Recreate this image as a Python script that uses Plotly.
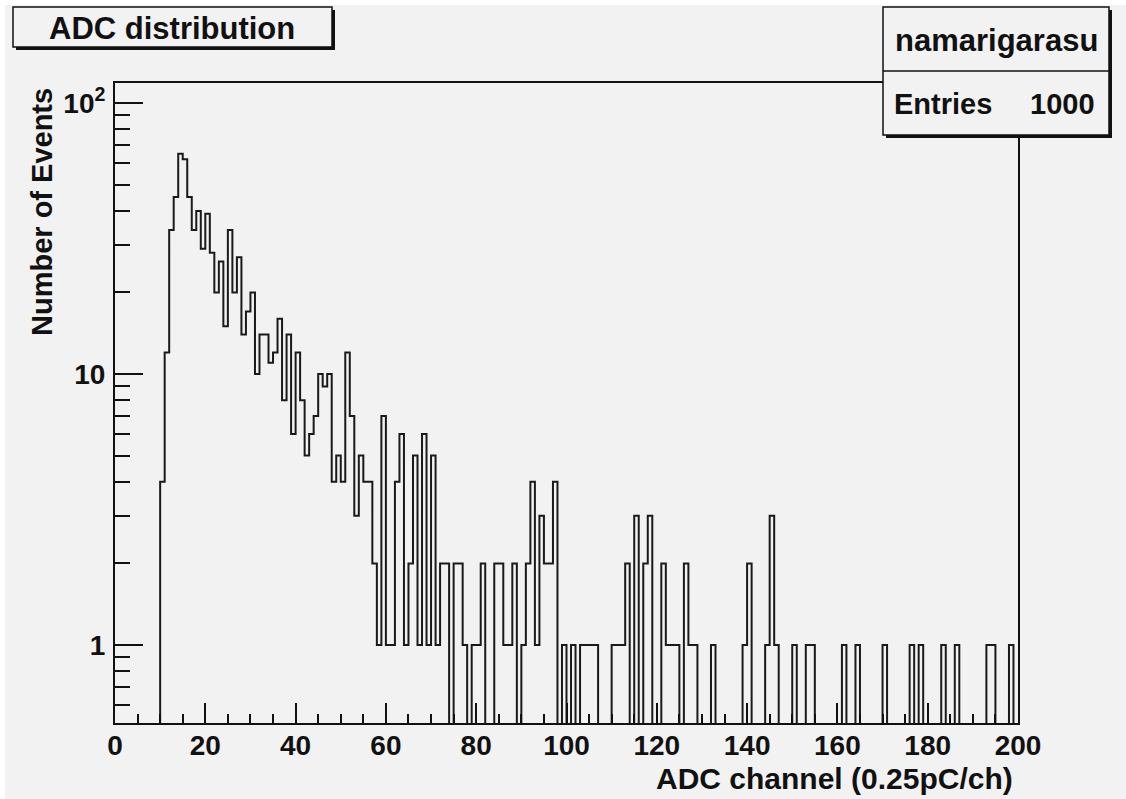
import plotly.graph_objects as go

# ---------------- data ----------------
bin_edges_lo = list(range(0, 200))          # 200 bins, width 1, from 0 to 200
counts = [
    0, 0, 0, 0, 0, 0, 0, 0, 0, 0,          # 0-9
    4, 12, 34, 45, 65, 62, 45, 34, 40, 29,  # 10-19
    39, 28, 20, 26, 15, 34, 20, 27, 14, 17, # 20-29
    20, 10, 14, 14, 11, 12, 16, 8, 14, 6,   # 30-39
    12, 8, 5, 6, 7, 10, 9, 10, 4, 5,        # 40-49
    4, 12, 7, 3, 5, 4, 4, 2, 1, 7,          # 50-59
    1, 1, 4, 6, 1, 2, 5, 1, 6, 1,           # 60-69
    5, 1, 2, 2, 0, 2, 2, 1, 0, 1,           # 70-79
    1, 2, 0, 0, 2, 2, 1, 1, 2, 0,           # 80-89
    1, 2, 4, 1, 3, 2, 2, 4, 0, 1,           # 90-99
    0, 1, 0, 1, 1, 1, 1, 0, 0, 0,           # 100-109
    1, 1, 1, 2, 0, 3, 0, 2, 3, 0,           # 110-119
    0, 2, 1, 1, 1, 0, 2, 1, 1, 0,           # 120-129
    0, 0, 1, 0, 0, 0, 0, 0, 0, 1,           # 130-139
    2, 0, 0, 0, 1, 3, 1, 0, 0, 0,           # 140-149
    1, 0, 0, 1, 1, 0, 0, 0, 0, 0,           # 150-159
    0, 1, 0, 0, 1, 0, 0, 0, 0, 0,           # 160-169
    1, 0, 0, 0, 0, 0, 1, 0, 1, 0,           # 170-179
    0, 0, 0, 1, 0, 0, 1, 0, 0, 0,           # 180-189
    0, 0, 0, 1, 1, 0, 0, 0, 1, 0,           # 190-199
]
x_tick_vals = [0, 20, 40, 60, 80, 100, 120, 140, 160, 180, 200]
y_tick_vals = [1, 10, 100]
y_tick_text = ["1", "10", "10<sup>2</sup>"]
y_minor_vals = [0.6, 0.7, 0.8, 0.9, 2, 3, 4, 5, 6, 7, 8, 9,
                20, 30, 40, 50, 60, 70, 80, 90]
title_text = "ADC distribution"
stats_name = "namarigarasu"
entries = 1000
x_title = "ADC channel (0.25pC/ch)"
y_title = "Number of Events"

# ---------------- layout constants ----------------
W, H = 1126, 799
ML, MR, MT, MB = 115, 108, 83, 76
PW, PH = W - ML - MR, H - MT - MB
BG = "#f2f2f2"
FONT = "Liberation Sans"
INK = "#111111"


def px(x):
    return (x - ML) / PW


def py(y):
    return (H - MB - y) / PH


# step outline: zero bins drop below the log axis and get clipped
FLOOR = 1e-3
step_x = bin_edges_lo + [200]
step_y = [c if c > 0 else FLOOR for c in counts]
step_y = step_y + [step_y[-1]]

fig = go.Figure()
fig.add_trace(go.Scatter(
    x=step_x, y=step_y, mode="lines", line_shape="hv",
    line=dict(color="#1a1a1a", width=2), hoverinfo="skip", showlegend=False,
))

fig.update_layout(
    width=W, height=H,
    margin=dict(l=ML, r=MR, t=MT, b=MB, pad=0),
    paper_bgcolor="white", plot_bgcolor=BG,
    font=dict(family=FONT, color=INK),
    showlegend=False,
)

fig.update_xaxes(
    range=[0, 200], showgrid=False, zeroline=False,
    showline=True, linecolor=INK, linewidth=2, mirror=True,
    ticks="inside", ticklen=20, tickwidth=1.5, tickcolor=INK,
    tickvals=x_tick_vals,
    tickfont=dict(family=FONT, size=28, color=INK, weight="bold"),
    ticklabelstandoff=-4,
    minor=dict(ticks="inside", ticklen=9, tickwidth=1.5, tickcolor=INK, dtick=5, showgrid=False),
)
fig.update_yaxes(
    type="log", range=[-0.288, 2.074], showgrid=False, zeroline=False,
    showline=True, linecolor=INK, linewidth=2, mirror=True,
    ticks="inside", ticklen=28, tickwidth=1.5, tickcolor=INK,
    tickvals=y_tick_vals, ticktext=y_tick_text,
    tickfont=dict(family=FONT, size=28, color=INK, weight="bold"),
    ticklabelstandoff=2,
    minor=dict(ticks="inside", ticklen=15, tickwidth=1.5, tickcolor=INK,
               tickvals=y_minor_vals, showgrid=False),
)

shapes = []
# canvas background (thin white rim at top/left)
shapes.append(dict(type="rect", xref="paper", yref="paper", layer="below",
                   x0=px(5), x1=px(W), y0=py(H), y1=py(5),
                   fillcolor=BG, line=dict(width=0)))
# title box with shadow
shapes.append(dict(type="rect", xref="paper", yref="paper", layer="above",
                   x0=px(16), x1=px(335), y0=py(50), y1=py(10),
                   fillcolor="#111111", line=dict(width=0)))
shapes.append(dict(type="rect", xref="paper", yref="paper", layer="above",
                   x0=px(13), x1=px(332), y0=py(47), y1=py(7),
                   fillcolor=BG, line=dict(color=INK, width=1.5)))
# stats box with shadow
shapes.append(dict(type="rect", xref="paper", yref="paper", layer="above",
                   x0=px(886), x1=px(1112), y0=py(138), y1=py(10),
                   fillcolor="#111111", line=dict(width=0)))
shapes.append(dict(type="rect", xref="paper", yref="paper", layer="above",
                   x0=px(883), x1=px(1109), y0=py(135), y1=py(7),
                   fillcolor=BG, line=dict(color=INK, width=1.5)))
shapes.append(dict(type="line", xref="paper", yref="paper", layer="above",
                   x0=px(883), x1=px(1109), y0=py(71), y1=py(71),
                   line=dict(color=INK, width=1.5)))

annotations = [
    dict(text=title_text, xref="paper", yref="paper", x=px(172), y=py(28),
         xanchor="center", yanchor="middle", showarrow=False,
         font=dict(family=FONT, size=31, color=INK, weight="bold")),
    dict(text=stats_name, xref="paper", yref="paper", x=px(996), y=py(40),
         xanchor="center", yanchor="middle", showarrow=False,
         font=dict(family=FONT, size=31, color=INK, weight="bold")),
    dict(text="Entries", xref="paper", yref="paper", x=px(892), y=py(104),
         xanchor="left", yanchor="middle", showarrow=False,
         font=dict(family=FONT, size=29, color=INK, weight="bold")),
    dict(text=str(entries), xref="paper", yref="paper", x=px(1097), y=py(104),
         xanchor="right", yanchor="middle", showarrow=False,
         font=dict(family=FONT, size=29, color=INK, weight="bold")),
    dict(text=x_title, xref="paper", yref="paper", x=px(1015), y=py(778),
         xanchor="right", yanchor="middle", showarrow=False,
         font=dict(family=FONT, size=30, color=INK, weight="bold")),
    dict(text=y_title, xref="paper", yref="paper", x=px(42), y=py(212),
         xanchor="center", yanchor="middle", showarrow=False, textangle=-90,
         font=dict(family=FONT, size=29, color=INK, weight="bold")),
]
fig.update_layout(shapes=shapes, annotations=annotations)

fig.write_html("out.html", config={"displayModeBar": False})
